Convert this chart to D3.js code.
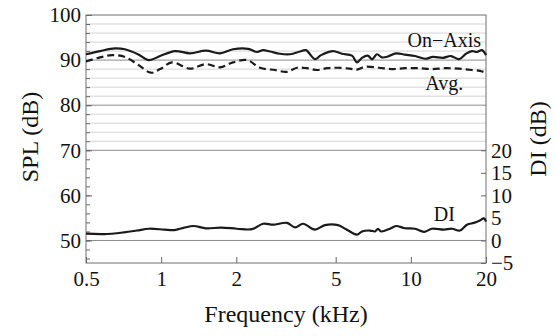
<!DOCTYPE html>
<html>
<head>
<meta charset="utf-8">
<script src="https://cdn.jsdelivr.net/npm/d3@7"></script>
<style>
  body { margin: 0; background: #fff; }
  .axis path.domain { display: none; }
  .axis line { stroke: #666; }
</style>
</head>
<body>
<svg id="chart"></svg>
<script>
// frequency in kHz, levels in dB
const onAxisFreq = [0.5, 0.569, 0.653, 0.716, 0.807, 0.894, 0.99, 1.136, 1.305, 1.51, 1.72, 1.94, 2.23, 2.42, 2.56, 2.73, 2.99, 3.28, 3.60, 3.80, 4.13, 4.37, 4.88, 5.30, 5.81, 6.09, 6.37, 6.73, 6.99, 7.32, 7.66, 8.10, 8.72, 9.47, 10.39, 11.40, 12.26, 13.45, 14.48, 15.59, 16.63, 17.57, 18.4, 19.27, 20];
const onAxisSpl = [91.3, 92.0, 92.6, 92.4, 91.3, 90.0, 90.9, 92.0, 91.5, 92.1, 91.5, 92.4, 92.5, 91.8, 92.2, 91.9, 91.4, 91.3, 91.9, 92.2, 90.2, 91.1, 92.0, 91.4, 91.0, 89.5, 90.5, 91.0, 90.2, 91.3, 90.6, 90.8, 91.5, 91.2, 90.9, 90.3, 90.7, 90.5, 90.9, 90.2, 91.4, 92.0, 91.8, 92.2, 91.1];

const avgFreq = [0.5, 0.569, 0.636, 0.716, 0.807, 0.91, 0.99, 1.105, 1.305, 1.51, 1.72, 1.94, 2.21, 2.49, 2.86, 3.19, 3.50, 3.84, 4.21, 4.62, 5.11, 5.70, 6.09, 6.55, 7.45, 8.40, 9.47, 10.78, 12.15, 13.7, 15.59, 17.57, 18.9, 20];
const avgSpl = [89.7, 90.6, 91.1, 90.7, 89.0, 87.2, 88.0, 89.5, 88.1, 89.1, 88.4, 89.5, 90.0, 88.3, 87.8, 87.4, 88.3, 88.2, 87.8, 88.2, 88.3, 88.1, 87.9, 88.5, 88.3, 88.0, 88.2, 88.2, 88.0, 88.2, 88.1, 87.8, 87.6, 87.2];

const diFreq = [0.5, 0.59, 0.71, 0.80, 0.894, 1.03, 1.13, 1.23, 1.35, 1.51, 1.74, 2.01, 2.31, 2.56, 2.81, 3.19, 3.44, 3.70, 4.13, 4.53, 5.11, 5.50, 6.09, 6.37, 6.86, 7.19, 7.39, 7.59, 8.25, 8.72, 9.47, 10.39, 11.29, 12.15, 13.57, 14.61, 15.73, 16.78, 17.9, 18.9, 19.63, 20];
const diValues = [1.5, 1.4, 1.8, 2.2, 2.6, 2.4, 2.3, 2.8, 3.2, 2.7, 2.85, 2.6, 2.5, 3.7, 3.5, 3.9, 2.9, 3.7, 2.4, 3.4, 3.4, 2.5, 1.3, 2.0, 2.2, 2.0, 2.6, 2.0, 2.6, 3.2, 2.7, 2.6, 1.9, 2.6, 2.4, 2.6, 2.2, 3.5, 3.9, 4.4, 4.9, 4.2];

const freqTicks = [0.5, 1, 2, 5, 10, 20];
const splTicks = [50, 60, 70, 80, 90, 100];
const diTicks = [-5, 0, 5, 10, 15, 20];

const FONT = '"Liberation Serif", "Times New Roman", Times, "DejaVu Serif", serif';
const W = 556, H = 336;
const margin = { top: 15, right: 70, bottom: 73, left: 86 };
const width = W - margin.left - margin.right;
const height = H - margin.top - margin.bottom;

const svg = d3.select('#chart').attr('width', W).attr('height', H)
  .attr('font-family', FONT);
svg.append('rect').attr('width', W).attr('height', H).attr('fill', '#fff');
const g = svg.append('g').attr('transform', `translate(${margin.left},${margin.top})`);

const x = d3.scaleLog().domain([0.5, 20]).range([0, width]);
const y = d3.scaleLinear().domain([45, 100]).range([height, 0]);
// DI shares the lower half: 0 dB DI sits on the 50 dB SPL line
const yDI = d3.scaleLinear().domain([-5, 20]).range([y(45), y(70)]);

// grid: light lines every 2 dB in the upper part, darker every 10
const minorGrid = d3.range(72, 100, 2).filter(d => d % 10 !== 0);
g.selectAll('.minor').data(minorGrid).enter().append('line')
  .attr('x1', 0).attr('x2', width)
  .attr('y1', d => y(d)).attr('y2', d => y(d))
  .attr('stroke', '#d4d4d4').attr('stroke-width', 1);
g.selectAll('.major').data([50, 70, 80, 90]).enter().append('line')
  .attr('x1', 0).attr('x2', width)
  .attr('y1', d => y(d)).attr('y2', d => y(d))
  .attr('stroke', '#8c8c8c').attr('stroke-width', 1);

// axes
function styleAxis(sel) {
  sel.attr('font-family', FONT).attr('font-size', 21);
  sel.selectAll('text').attr('fill', '#111');
}
g.append('g').attr('class', 'axis')
  .call(d3.axisLeft(y).tickValues(d3.range(46, 101, 2)).tickSize(-4).tickPadding(5)
    .tickFormat(d => splTicks.includes(d) ? d : ''))
  .call(styleAxis);
g.append('g').attr('class', 'axis')
  .call(d3.axisLeft(y).tickValues(splTicks).tickSize(-6).tickFormat(''));

g.append('g').attr('class', 'axis')
  .attr('transform', `translate(0,${height})`)
  .call(d3.axisBottom(x).tickValues(freqTicks).tickSize(-6).tickPadding(8)
    .tickFormat(d3.format('')))
  .call(styleAxis);

g.append('g').attr('class', 'axis')
  .attr('transform', `translate(${width},0)`)
  .call(d3.axisRight(yDI).tickValues(diTicks).tickSize(-5).tickPadding(5))
  .call(styleAxis);

// frame
g.append('rect').attr('width', width).attr('height', height)
  .attr('fill', 'none').attr('stroke', '#6e6e6e').attr('stroke-width', 1);

// curves
const lineSpl = d3.line().x(d => x(d[0])).y(d => y(d[1])).curve(d3.curveCatmullRom.alpha(0.5));
const lineDI = d3.line().x(d => x(d[0])).y(d => yDI(d[1])).curve(d3.curveCatmullRom.alpha(0.5));

g.append('path').datum(d3.zip(onAxisFreq, onAxisSpl))
  .attr('d', lineSpl).attr('fill', 'none').attr('stroke', '#1a1a1a').attr('stroke-width', 2.2);
g.append('path').datum(d3.zip(avgFreq, avgSpl))
  .attr('d', lineSpl).attr('fill', 'none').attr('stroke', '#1a1a1a').attr('stroke-width', 2.2)
  .attr('stroke-dasharray', '7,4');
g.append('path').datum(d3.zip(diFreq, diValues))
  .attr('d', lineDI).attr('fill', 'none').attr('stroke', '#1a1a1a').attr('stroke-width', 2.2);

// curve labels
const lbl = (txt, fx, yy) => g.append('text').attr('x', x(fx)).attr('y', yy)
  .attr('text-anchor', 'end').attr('font-family', FONT).attr('font-size', 20)
  .attr('fill', '#111').text(txt);
lbl('On\u2212Axis', 19.1, y(93.0));
lbl('Avg.', 16.2, y(83.3));
lbl('DI', 15.0, yDI(4.3));

// axis titles
const title = (txt) => svg.append('text').attr('text-anchor', 'middle')
  .attr('font-family', FONT).attr('font-size', 24).attr('fill', '#111').text(txt);
title('SPL (dB)').attr('transform', 'translate(38,137) rotate(-90)');
title('DI (dB)').attr('transform', 'translate(546,139) rotate(-90)');
title('Frequency (kHz)').attr('x', margin.left + width / 2).attr('y', 322);
</script>
</body>
</html>
